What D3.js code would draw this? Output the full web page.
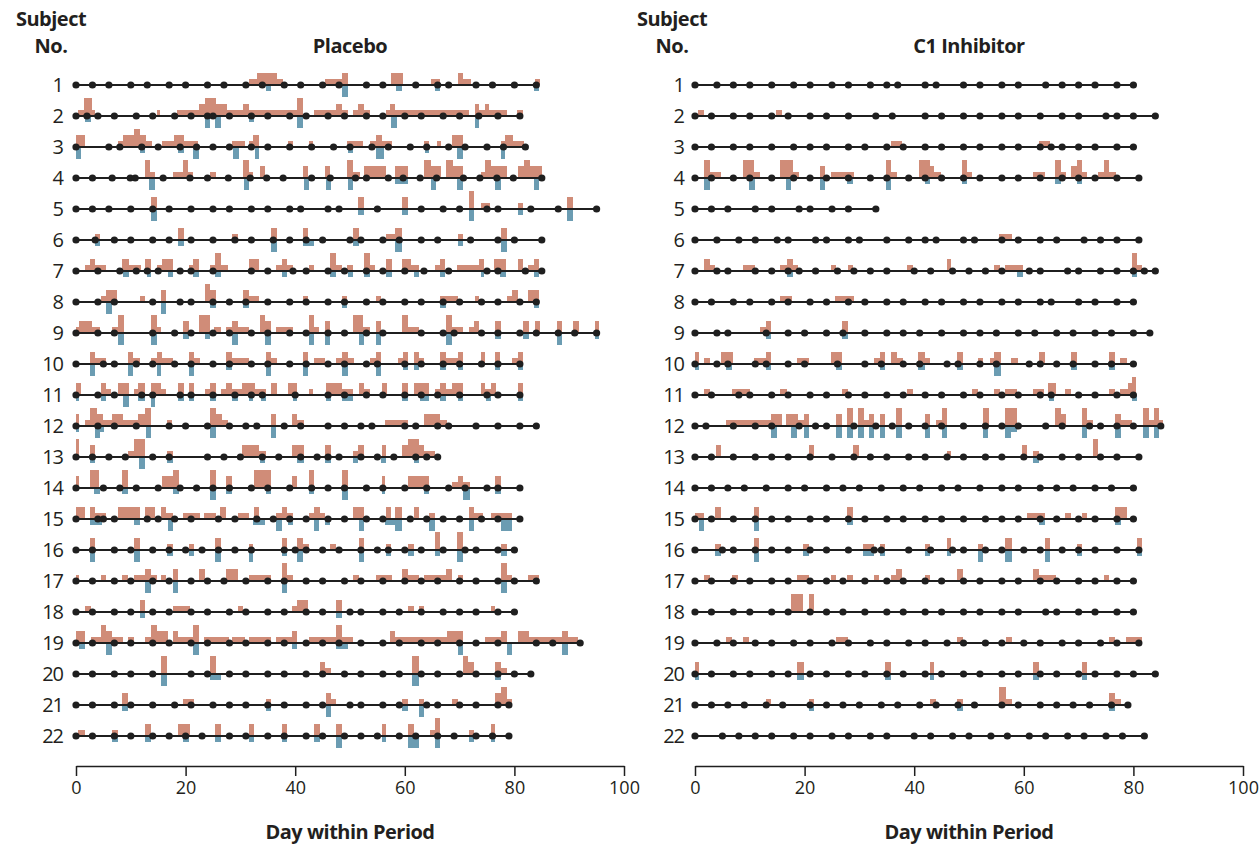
<!DOCTYPE html>
<html><head><meta charset="utf-8">
<script src="https://cdn.jsdelivr.net/npm/d3@7"></script>
<style>
html,body{margin:0;padding:0;background:#fff;}
svg{display:block;}
text{font-family:"Open Sans","Noto Sans",sans-serif;fill:#231f20;}
</style></head><body>
<svg id="chart" width="1260" height="845"></svg>
<script>
const subjects = ["1","2","3","4","5","6","7","8","9","10","11","12","13","14","15","16","17","18","19","20","21","22"];
const xTicks = [0,20,40,60,80,100];
const panelTitles = ["Placebo","C1 Inhibitor"];

// visit days (dots) per subject
const placeboDots = [
[0,3,6,10,13,17,20,24,27,31,34,38,41,45,48,53,56,62,66,68,73,76,80,84],
[0,2,4,7,11,14,18,21,24,25,28,32,35,39,42,46,49,53,56,60,63,67,70,73.5,77,81],
[0,6,8,12,15,19,22,25,28,32,35,39,43,47,50,54,57,61,64,68,71,75,78,82],
[0,3,6.6,9.9,10.8,15.9,20.8,24,27.8,31.8,34.8,37.8,43,46.4,51,53,57,59.7,62.8,65.8,70.7,73.7,76.8,79.8,85],
[0,3,6,10,14,17,21,25,28,32,35,39,41,46,48,55,63,67,70,75,77,83,88,95],
[0,3.5,7,10,14,17,21,25,29,32,36,39,42,45,50,52,56,59,63,66,72,77,80,85],
[0,4,8,11,13,15,19,21,25,32,35,39.6,42,46,49,53,56,60,63.5,68,75,77,82,85],
[0,4,7,14,19,21,25,28,31,35,39,42,46,49,53,56,60,63,67,70,74,77,81,84],
[0,4,7,14,18,21,25,28,32,35,39,42,46,49,53,56,63,67,69,74,77,81,84,88,91,95],
[0,5,7,11,14,18,21,25,28,32,35,39,42,46,49,53,55,60,63,67,70,74,77,81],
[0,4,7,12,14,19,21,25,29,32,34,40,46,49,53,56,60,63,66,70,75,77,81],
[0,4,7,11,17,20,24,28,31,33,38,41,46,49,52,54,60,62,66,68,73,77,81,84],
[0,3,6,9,14,17,24,27,30,34,37,41,44,46,48,52,55,58,62,64,66],
[0,5,8,11,15,19,22,25,28,32,35,39,43,46,49,53,56,60,64,68,71,75,77,81],
[0,4,5,7,13,15,18,21,26,29,33,36,39,42,46,49,53,56,61,64,67,70,74,77,81],
[0,3,7,10,14,17,20,23,26,29,32,38,40,42,45,48,52,55,57,60,63,67,71,73,77,80],
[0,3,7,10,14,17,21,24,27,31,35,38,42,45,49,52,56,60,63,66,70,73,77,80,84],
[0,3,7,10,14,17,21,24,28,31,35,38,42,45,50,52,56,59,63,67,70,73,77,80],
[0,3,7,10,14,17,21,24,28,31,35,38,42,45,48,52,56,59,63,66,70,73,77,84,87,92],
[0,3,7,10,14,21,24,28,31,35,38,42,45,49,52,56,59,63,66,70,73,77,80,83],
[0,3,7,10,14,18,21,25,28,31,35,38,42,45,50,52,56,59,64,66,70,73,77,79],
[0,3,7,10,14,17,20,23,28,31,35,38,42,45,49,52,55,59,62,66,69,73,76,79]
];
// attacks: [startDay, endDay, severity level]
const placeboAttacks = [
[[31.5,33,1],[33,34,2],[34,36.7,2],[36.7,37.8,1],[45.5,48.6,1],[48.6,49.7,2],[57.5,59.6,2],[64.7,66.4,1],[69.7,70.6,2],[70.6,72,1],[83.8,84.7,1]],
[[0.4,1.4,1],[1.4,2.9,3],[2.9,3.5,1],[14.7,15.4,1],[18.5,22.5,1],[22.5,23.5,2],[23.5,25.5,3],[25.5,27.5,2],[27.5,30.5,1],[30.5,31.5,2],[31.5,40.4,1],[40.4,41.4,3],[43.5,47.4,1],[47.4,48.6,2],[48.6,49.7,1],[50.6,51.5,1],[51.5,52.6,2],[52.6,53.6,1],[56.5,57.3,1],[57.3,58.3,2],[58.3,71.7,1],[72.8,73.5,2],[73.5,74.6,1],[74.6,75.3,2],[75.3,78.6,1],[80.4,81.6,1]],
[[0,1.7,2],[7.7,8.5,1],[8.5,10.5,2],[10.5,11.6,3],[11.6,12.7,2],[12.7,13.9,1],[15.7,17.9,1],[17.9,19.7,2],[19.7,22.2,1],[28.4,30.8,1],[31.5,32.3,1],[32.3,33.4,2],[38.6,39.6,1],[42.5,43.3,1],[49.5,52.4,1],[53.6,54.7,1],[54.7,55.8,2],[55.8,57.6,1],[63.5,64.5,1],[65.8,66.6,1],[68.7,70.6,2],[77.5,78.2,1],[78.2,79.7,2],[79.7,81.8,1]],
[[12.6,13.5,3],[13.5,14.4,1],[17.7,19.5,1],[19.5,20.4,3],[20.4,21.4,1],[24.4,25.5,1],[30.5,31.6,3],[31.6,32.3,1],[33.6,34.5,2],[41.4,42.3,2],[45.5,46.4,2],[49.5,50.6,3],[50.6,51.8,1],[52.6,56.5,2],[58.3,60.5,2],[63.5,64.7,3],[64.7,66.6,2],[67.5,68.8,3],[68.8,70.6,2],[73.9,74.6,1],[74.6,75.7,3],[75.7,78.6,2],[80.7,81.8,2],[81.8,82.9,3],[82.9,85,2]],
[[13.6,14.7,2],[51.5,52.6,2],[59.4,60.5,2],[71.7,72.6,3],[73.9,75.5,1],[80.6,81.6,1],[89.6,90.7,2]],
[[3.5,4.3,1],[18.6,19.7,2],[28.4,29.5,1],[35.6,36.7,2],[41.4,42.3,2],[50.6,51.7,2],[56.5,58.3,1],[58.3,59.4,2],[69.7,70.6,1],[77.5,78.6,2]],
[[1.7,2.6,1],[2.6,3.5,2],[3.5,5.5,1],[8.4,9.6,2],[9.6,11.8,1],[12.6,13.7,2],[14.7,15.7,1],[15.7,17.7,2],[20.6,21.4,1],[21.4,22.5,2],[24.4,25.3,1],[25.3,26.4,3],[26.4,27.7,1],[31.6,33.4,2],[36.5,37.5,1],[37.5,38.5,2],[38.5,39.6,1],[42.5,43.5,1],[46.4,47.5,3],[47.5,48.6,1],[49.5,50.6,1],[52.6,53.6,3],[53.6,54.6,1],[56.5,57.6,2],[59.4,61.2,2],[61.2,62.5,1],[65.6,66.5,1],[66.5,67.4,2],[69.5,73.5,1],[73.5,74.4,2],[76.2,78.4,2],[80.6,81.6,2],[82.5,83.6,1],[83.6,84.5,2]],
[[4.5,5.5,1],[5.5,7.4,2],[11.6,12.5,1],[15.6,16.5,2],[23.5,24.4,3],[24.4,25.5,2],[30.5,31.6,2],[31.6,33.4,1],[41.4,42.3,1],[48.6,49.5,1],[54.7,55.6,1],[66.5,69.7,1],[72.8,73.6,1],[78.6,79.6,1],[79.6,80.7,2],[82.5,84.5,2]],
[[0,0.6,1],[0.6,2.9,2],[2.9,4.3,1],[6.6,7.6,1],[7.6,8.7,3],[13.6,14.7,3],[14.7,15.6,1],[19.5,20.6,2],[22.4,24.4,3],[25.1,26.4,1],[27.4,28.4,1],[28.4,29.5,2],[29.5,31.6,1],[33.6,34.5,3],[34.5,35.6,2],[36.5,39.6,1],[42.5,43.5,3],[43.5,44.4,1],[45.5,46.4,2],[50.6,52.4,3],[52.4,53.6,1],[54.7,55.6,2],[59.4,60.5,3],[60.5,62.5,1],[67.6,68.6,3],[68.6,70.6,1],[71.7,72.6,1],[72.6,73.6,2],[76.4,77.5,2],[81.6,82.7,2],[83.8,84.7,2],[87.7,88.7,2],[90.7,91.7,2],[94.7,95.5,2]],
[[2.6,3.5,2],[3.5,5.5,1],[9.5,10.4,2],[10.4,11.6,1],[13.6,14.7,1],[14.7,15.7,2],[15.7,17.7,1],[20.6,21.5,2],[21.5,22.6,1],[27.3,28.4,2],[28.4,31.5,1],[34.7,35.6,2],[35.6,36.7,1],[41.4,42.3,2],[43.5,45.5,1],[47.5,48.6,1],[48.6,49.7,2],[49.7,50.8,1],[53.6,54.7,1],[54.7,55.6,2],[58.7,59.6,1],[59.6,60.5,2],[61.6,62.5,2],[62.5,63.5,1],[66.5,67.6,2],[67.6,69.7,1],[69.7,70.6,2],[73.9,74.6,2],[76.4,77.3,2],[79.6,80.6,1],[80.6,81.6,2]],
[[0,0.9,2],[4.5,5.5,2],[5.5,6.3,1],[7.7,9.6,2],[10.5,11.4,1],[11.4,12.5,2],[13.6,15.6,2],[15.6,16.5,1],[18.6,19.7,2],[20.6,21.5,2],[23.5,24.4,1],[24.4,25.5,2],[26.4,27.3,1],[27.3,28.4,2],[28.4,30.3,1],[30.3,32.7,2],[32.7,34.7,1],[35.6,36.7,2],[38.7,40.4,2],[42.6,43.3,1],[45.6,48.6,2],[48.6,50.6,1],[51.6,52.6,2],[52.6,53.6,1],[55.8,56.8,2],[59.4,60.5,2],[61.6,64.5,2],[65.6,66.5,1],[66.5,67.6,2],[67.6,68.6,1],[68.6,70.6,2],[73.9,74.6,2],[74.6,75.7,1],[75.7,76.7,2],[80.6,81.6,2]],
[[0,0.6,2],[1.7,2.6,1],[2.6,3.8,3],[3.8,4.9,2],[4.9,6.5,1],[6.5,8.5,2],[8.5,11.4,1],[11.4,12.5,2],[12.5,13.6,3],[16.6,17.6,1],[24.4,25.5,3],[25.5,26.6,2],[26.6,27.7,1],[35.6,36.5,2],[39.4,40.4,2],[40.4,41.6,1],[56.3,60.5,1],[63.5,66.5,2],[66.5,67.7,1]],
[[0,0.6,3],[2.6,3.5,2],[9.5,10.5,1],[10.5,12.6,3],[16.6,17.7,1],[30.3,33.4,2],[33.4,34.7,1],[39.4,41.6,2],[45.5,46.6,2],[50.6,51.5,1],[51.5,52.6,2],[55.8,56.5,2],[59.4,60.5,2],[60.5,62.5,3],[62.5,63.5,2],[63.5,65.6,1]],
[[0,0.6,2],[2.6,4.2,3],[8.4,9.5,3],[15.7,17.7,2],[17.7,18.8,3],[24.4,25.5,3],[27.4,28.4,2],[32.5,35.6,3],[39.4,40.4,2],[42.5,43.4,3],[48.6,49.7,3],[55.8,56.3,2],[60.5,64.5,2],[68.7,69.7,1],[69.7,70.6,2],[70.6,71.9,1],[76.4,77.5,2]],
[[0,1.7,2],[2.6,3.5,2],[3.5,5.5,1],[7.6,11.6,2],[12.5,14.4,2],[15.6,16.5,2],[16.5,17.7,1],[19.5,22.6,1],[23.3,25.5,1],[26.2,27.4,2],[29.5,31.6,1],[32.5,33.4,2],[36.5,37.5,1],[37.5,38.5,2],[38.5,39.6,1],[42.5,43.5,1],[43.5,44.6,2],[44.6,45.5,1],[50.6,52.6,2],[56.5,57.5,2],[58.3,59.4,2],[61.6,62.5,2],[64.5,65.6,1],[71.7,72.6,2],[72.6,74.2,1],[75.7,79.6,1]],
[[2.6,3.5,2],[10.5,11.6,2],[16.6,17.7,1],[20.6,21.5,1],[25.3,26.4,2],[31.5,32.3,1],[37.5,38.5,2],[40.4,41.4,2],[41.4,42.5,1],[46.4,47.5,1],[51.6,52.6,2],[56.5,57.5,1],[60.5,61.6,1],[65.6,66.5,3],[69.5,70.6,3],[77.5,78.6,1]],
[[0,0.6,1],[4.5,5.5,1],[8.4,9.4,1],[10.5,12.6,1],[12.6,13.6,2],[13.6,14.7,1],[15.6,16.5,1],[17.7,18.6,2],[22.4,23.5,2],[27.4,29.6,2],[31.5,35.6,1],[37.5,38.5,3],[38.5,39.6,1],[50.6,51.7,1],[54.7,57.6,1],[59.4,60.5,2],[60.5,62.5,1],[63.5,67.6,1],[67.6,68.6,2],[69.7,70.6,1],[77.5,78.6,3],[78.6,79.6,1],[82.5,84.5,1]],
[[1.7,2.7,1],[11.6,12.6,2],[17.7,20.8,1],[29.5,30.5,1],[39.4,40.4,1],[40.4,42.3,2],[47.5,48.6,2],[60.5,61.6,1],[62.5,63.5,1],[75.7,76.4,1]],
[[0,1.7,2],[2.7,4.5,1],[4.5,5.5,3],[5.5,6.5,2],[6.5,8.5,1],[9.4,10.5,1],[12.6,13.6,1],[13.6,14.7,3],[14.7,16.7,2],[17.7,18.6,2],[18.6,21.4,1],[21.4,22.5,3],[23.3,28,1],[28.4,30.9,1],[31.6,35.6,1],[36.5,39.4,1],[39.4,40.4,2],[42.5,47.5,1],[47.5,48.6,3],[48.6,50.6,1],[57.3,58.3,2],[58.3,67.7,1],[67.7,70.6,2],[74.6,77.5,1],[77.5,78.6,2],[80.6,82.7,2],[82.7,88.7,1],[88.7,89.7,2],[89.7,91.6,1]],
[[15.6,16.6,3],[24.4,25.5,3],[44.5,45.5,2],[45.5,46.6,1],[61.4,62.5,3],[70.6,71.6,3],[71.6,72.6,2],[76.4,77.5,2],[77.5,78.6,1]],
[[8.4,9.4,2],[19.6,21.5,1],[34.7,35.6,1],[45.6,46.6,2],[46.6,47.5,1],[59.4,60.5,1],[62.5,63.5,1],[68.7,69.7,1],[76.4,77.5,2],[77.5,78.6,3],[78.6,79.6,1]],
[[0.4,1.7,1],[6.6,7.6,1],[12.6,13.7,2],[18.6,20.8,2],[25.3,26.4,2],[31.5,32.5,2],[37.5,38.5,2],[43.5,44.5,2],[47.5,48.6,2],[55.8,56.5,2],[60.5,61.6,2],[64.6,65.6,1],[65.6,66.5,3],[71.7,72.6,1],[75.7,76.4,2]]
];
// rescue treatment bars (below line): [startDay, endDay, level]
const placeboRescue = [
[[34.7,35.6,1],[48.6,49.7,2],[58.4,59.5,1],[65.5,66.4,1],[83.6,84.5,1]],
[[1.7,2.7,1],[23.5,24.4,2],[25.3,26.4,2],[31.6,32.4,1],[40.4,41.4,2],[57.5,58.6,2],[72.8,73.6,2]],
[[0,0.9,2],[11.6,12.6,1],[18.6,19.7,1],[21.4,22.5,2],[28.6,29.7,2],[32.6,33.4,2],[49.7,50.6,1],[54.7,56.2,2],[63.6,64.5,1],[69.5,70.6,2],[77.5,78.3,2]],
[[13.4,14.4,2],[30.6,31.6,2],[41.6,42.5,2],[45.6,46.6,2],[49.7,50.6,2],[58.3,60.5,1],[64.7,65.7,2],[69.5,70.6,2],[76.4,77.5,2],[83.6,84.5,2]],
[[13.6,14.7,2],[51.5,52.6,1],[59.4,60.5,1],[71.7,72.6,2],[80.6,81.6,1],[89.6,90.7,2]],
[[3.5,4.3,1],[18.6,19.7,1],[35.6,36.7,2],[41.4,43.5,1],[50.6,51.7,1],[58.3,59.4,2],[69.7,70.6,1],[77.5,78.6,2]],
[[8.5,9.6,1],[12.9,13.7,1],[16.7,17.7,1],[21.4,22.5,1],[25.3,26.4,1],[37.5,38.5,1],[46.4,47.5,1],[49.7,50.6,1],[52.6,53.6,1],[56.5,57.6,1],[61.6,62.5,1],[66.5,67.4,1],[73.9,74.4,1],[77.3,78.4,1],[83.6,84.5,1]],
[[5.5,6.5,2],[15.6,16.5,2],[24.4,25.5,1],[30.5,31.6,1],[48.6,49.5,1],[66.5,67.6,1],[83.6,84.5,1]],
[[7.6,8.7,2],[13.6,14.7,2],[19.5,20.6,1],[23.5,24.4,1],[28.4,29.5,2],[34.5,35.6,2],[42.5,43.5,2],[45.5,46.4,2],[51.6,52.6,2],[54.7,55.6,2],[67.6,68.6,2],[76.4,77.5,1],[81.6,82.7,1],[87.7,88.7,2],[94.7,95.5,1]],
[[2.6,3.5,2],[9.5,10.4,2],[14.7,15.6,2],[20.6,21.5,2],[27.3,28.4,1],[34.7,35.6,2],[41.4,42.3,2],[48.6,49.7,2],[54.7,55.6,2],[59.6,60.5,1],[61.6,62.5,1],[66.5,67.6,1],[69.7,70.6,1],[76.4,77.3,1],[80.6,81.6,1]],
[[0,0.6,1],[4.5,5.5,1],[8.5,9.6,2],[11.4,12.5,1],[13.6,14.4,2],[18.6,19.7,1],[20.6,21.5,1],[24.4,25.5,1],[28.4,29.5,1],[31.5,32.3,1],[33.8,34.7,1],[39.6,40.4,1],[45.6,46.6,1],[48.6,50.6,1],[59.4,60.5,1],[62.7,64.5,1],[66.5,67.6,1],[69.7,70.6,1],[74.9,75.7,1],[80.6,81.6,1]],
[[0,0.6,1],[3.5,4.3,2],[4.3,5.2,1],[12.7,13.7,2],[24.4,25.5,2],[35.6,36.5,2]],
[[2.6,3.5,1],[11.5,12.6,2],[16.6,17.7,1],[33.6,34.5,1],[40.4,41.6,1],[45.5,46.6,1],[50.6,51.5,1],[55.6,56.5,1],[61.6,62.5,1]],
[[3.3,4.3,1],[8.4,9.5,1],[17.7,18.8,1],[24.4,25.5,2],[27.4,28.4,1],[34.7,35.6,1],[42.5,43.4,1],[48.6,49.7,2],[55.8,56.3,1],[63.5,64.5,1],[70.6,71.9,2],[76.4,77.5,1]],
[[2.6,4.8,1],[10.6,11.6,1],[16.7,17.7,2],[32.3,34.5,1],[36.5,37.5,2],[38.7,39.6,1],[43.5,44.4,2],[45.5,46.3,1],[51.6,52.6,2],[56.3,58.3,1],[58.3,59.4,2],[64.5,65.6,2],[71.7,72.6,2],[77.5,79.6,2]],
[[2.6,3.5,2],[10.5,11.6,2],[16.6,17.7,1],[20.6,21.5,1],[25.3,26.4,2],[31.5,32.3,2],[37.5,38.5,1],[40.4,41.4,2],[51.6,52.6,2],[56.5,57.5,1],[60.5,61.6,1],[65.6,66.5,1],[69.5,70.6,2],[77.5,78.6,1]],
[[12.6,13.6,2],[17.7,18.6,2],[37.5,38.5,2],[77.5,78.6,2]],
[[11.6,12.6,1],[47.5,48.6,1]],
[[0.6,1.7,1],[5.5,6.5,2],[21.4,22.5,2],[39.4,40.4,1],[47.5,49.7,1],[69.7,70.6,2],[78.6,79.5,2],[88.7,89.7,2]],
[[15.6,16.6,2],[24.4,26.4,1],[61.4,62.5,2],[76.4,77.5,1]],
[[8.4,9.4,1],[34.7,35.6,1],[45.6,46.6,2],[59.4,60.5,1],[62.5,63.5,2]],
[[6.6,7.6,1],[12.6,13.7,1],[19.6,20.6,1],[25.3,26.4,1],[31.5,32.5,1],[37.5,38.5,1],[43.5,44.5,1],[47.5,48.6,2],[55.8,56.5,1],[60.5,62.5,2],[65.6,66.5,2],[71.7,72.6,1],[75.7,76.4,1]]
];

const c1Dots = [
[0,4,7,10,14,18,21,25,28,32,35,37,42,44,49,52,56,59,64,67,70,73,77,80],
[0,3,7,10,14,17,21,24,28,33,36,42,45,49,52,56,59,63,67,70,75,77,80,84],
[0,3,7,10,14,18,21,24,28,31,35,38,42,45,49,52,56,59,63,65,67,70,73,77,80],
[0,3,7,10,14,18,21,24,28,32,35,39,42,45,49,52,56,59,63,67,70,73,77,81],
[0,3,6,11,14,19,21,25,28,33],
[0,4,8,11,15,17,22,24,28,30,35,39,42,44,49,51,56,59,63,66,71,74,77,81],
[0,4,6,11,14,17,19,22,26,29,32,35,40,43,47,50,53,56,61,63,68,70,74,77,80,82,84],
[0,3,7,10,14,17,21,24,28,31,35,38,42,45,49,52,56,59,63,65,70,73,77,80],
[0,4,6,13,17,20,24,27,31,35,38,41,45,49,52,55,59,62,66,69,73,76,80,83],
[0,4,6,11,13,17,20,26,31,34,38,41,46,48,52,55,61,63,66,69,73,76,80],
[0,3,8,10,14,17,21,24,28,31,35,38,42,45,49,52,56,59,63,65,70,73,77,80],
[0,2,7,11,14,19,22,24,29,33,36,39,42,45,49,53,56,59,64,67,72,74,77,80,85],
[0,3,7,11,14,17,21,25,29,32,35,39,42,46,49,53,56,60,63,67,70,74,77,81],
[0,3,6,9,13,17,20,24,27,30,34,38,41,45,48,52,56,59,63,66,69,73,76,80],
[0,3,7,11,14,17,21,24,28,31,35,38,42,45,49,53,56,59,63,66,70,73,77,80],
[0,5,7,11,14,17,21,24,28,32.7,34,39,43,47,49,53,56,60,63,67,70,73,77,81],
[0,3,7,10,14,17,21,24,27,31,35,38,42,45,49,52,56,59,63,66,70,73,77,80],
[0,3,7,10,14,17,21,24,27,31,35,38,42,45,49,52,56,59,64,66,70,73,77,80],
[0,4,7,11,14,18,21,25,28,32,35,39,42,46,49,53,56,60,63,67,70,74,77,81],
[0,3,7,10,14,17,21,24,28,31,35,38,42,45,49,52,56,59,63,66,70,73,77,80,84],
[0,3,6,9,13,16,21,24,27,30,34,37,41,44,48,51,56,59,63,66,69,72,76,79],
[0,5,8,11,14,18,21,25,28,32,35,40,43,47,50,54,57,61,64,68,71,75,78,82]
];
const c1Attacks = [
[],
[[0.6,1.7,1],[14.7,15.8,1]],
[[35.7,37.7,1],[62.8,64.7,1]],
[[1.7,2.8,3],[2.8,4.8,1],[8.8,10.8,3],[10.8,11.9,1],[15.6,17.8,3],[17.8,19,1],[22.8,23.8,2],[24.9,29,1],[34.8,35.7,3],[35.7,36.8,1],[40.9,42.8,3],[42.8,43.7,2],[43.7,44.8,1],[48.8,49.6,3],[49.6,50.6,1],[61.7,63.8,1],[65.7,66.7,3],[66.7,67.7,1],[68.6,69.7,2],[69.7,70.6,3],[70.6,71.6,1],[73.6,74.6,1],[74.6,75.6,3],[75.6,76.8,1]],
[],
[[55.5,57.8,1]],
[[1.7,2.8,2],[2.8,3.7,1],[8.7,10.9,1],[15.6,16.7,1],[16.7,17.8,2],[17.8,18.8,1],[24.9,25.8,1],[27.9,28.8,1],[38.7,39.8,1],[45.9,46.8,2],[54.5,55.6,1],[56.5,59.9,1],[79.8,80.7,3],[80.7,81.6,1]],
[[15.6,17.7,1],[25.6,29,1]],
[[11.9,12.9,1],[12.9,13.8,2],[26.8,27.9,2]],
[[0,0.7,2],[1.7,2.8,1],[4.8,6.9,2],[10.8,12.9,1],[12.9,13.8,2],[18.6,20.8,1],[24.9,26.9,2],[32.7,33.8,1],[33.8,34.7,2],[35.7,36.8,2],[36.8,37.9,1],[40.7,41.9,2],[41.9,42.8,1],[47.8,48.9,2],[51.7,52.6,1],[53.8,54.6,1],[54.6,55.8,2],[57.6,58.9,1],[62.8,63.8,2],[68.6,69.7,2],[75.5,76.7,2],[77.5,78.8,1]],
[[1.7,2.8,1],[6.7,10,1],[15.5,16.7,1],[26.8,27.9,1],[38.7,39.8,1],[50.6,51.7,1],[54.5,55.6,1],[56.5,58.7,1],[61.7,63.6,1],[64.5,65.8,2],[67.5,68.6,1],[75.5,76.6,1],[77.5,79,1],[79,79.7,2],[79.7,80.5,3]],
[[5.7,13.8,1],[13.8,15.8,2],[16.6,18.8,2],[18.8,19.9,1],[19.9,20.8,2],[25.7,26.9,2],[27.7,28.8,3],[29.7,30.9,3],[30.9,31.7,1],[31.7,32.7,2],[33.7,34.7,2],[36.7,37.7,3],[41.9,42.8,2],[43.9,45,1],[45,45.9,3],[52.6,53.7,3],[56.5,58.7,3],[65.7,66.7,3],[66.7,67.7,2],[70.6,71.6,3],[71.6,72.6,1],[76.6,77.7,2],[77.7,79.8,1],[81.8,82.8,3],[82.8,83.8,1],[83.8,84.6,3],[84.6,85.4,1]],
[[3.9,4.8,2],[20.8,21.8,2],[28.8,30,2],[45.9,46.8,1],[59.7,60.6,2],[61.7,62.7,1],[72.6,73.6,3]],
[],
[[0,1.7,1],[3.7,4.7,2],[10.8,11.7,2],[27.7,28.8,2],[60.6,63.8,1],[67.5,68.6,1],[70.6,71.6,1],[76.6,78.8,2]],
[[3.7,4.8,1],[10.8,11.7,2],[19.7,20.8,1],[30.7,32.7,1],[33.7,34.7,1],[41.9,42.8,1],[45.9,46.8,2],[51.7,52.6,1],[56.5,57.8,2],[63.8,64.7,2],[69.7,70.6,1],[80.7,81.6,2]],
[[1.7,2.8,1],[6.7,7.8,1],[18.7,20.8,1],[24.9,25.8,1],[27.7,28.8,1],[32.7,33.6,1],[35.7,36.7,1],[36.7,37.7,2],[41.9,42.8,1],[47.8,48.9,2],[61.7,62.7,2],[62.7,65.8,1],[74.6,75.6,1]],
[[17.6,19.7,3],[20.8,21.8,3]],
[[5.7,6.7,1],[8.8,9.9,1],[25.7,27.9,1],[47.8,48.9,1],[56.7,57.8,1],[75.5,76.6,1],[78.7,81.6,1]],
[[0,0.8,2],[18.7,19.8,2],[34.7,35.7,2],[42.8,43.7,2],[61.7,62.7,2],[70.6,71.6,2]],
[[12.9,13.8,1],[20.8,21.8,1],[42.8,43.9,1],[47.8,48.9,1],[55.5,56.7,3],[56.7,57.8,1],[75.5,76.6,2],[76.6,77.7,1]],
[]
];
const c1Rescue = [
[],[],[],
[[1.7,2.8,2],[9.9,10.9,2],[16.6,17.6,2],[22.8,23.8,2],[27.7,28.8,1],[34.8,35.7,2],[41.9,42.8,1],[48.8,49.6,1],[65.7,66.7,1],[69.7,70.6,1]],
[],[],
[[16.7,17.8,1],[58.7,59.9,1],[79.8,80.7,1]],
[],
[[12.9,13.8,1],[26.8,27.9,1]],
[[0,0.7,1],[5.7,6.7,1],[12.9,13.8,1],[25.7,26.8,1],[33.8,34.7,1],[40.7,41.9,1],[47.8,48.9,1],[54.6,55.8,2],[68.6,69.7,1],[75.5,76.7,1]],
[[64.6,65.6,1],[79.8,80.7,1]],
[[13.8,14.9,2],[17.5,18.6,2],[19.9,20.8,2],[25.7,26.8,2],[27.7,28.8,2],[29.7,30.9,2],[31.8,32.6,2],[33.7,34.7,2],[36.7,37.7,2],[41.9,42.8,2],[45,45.9,2],[52.6,53.5,2],[56.5,57.6,2],[57.6,58.7,1],[70.6,71.6,2],[76.6,77.7,2],[81.8,82.8,2],[83.8,84.6,2]],
[[61.7,62.7,1]],
[],
[[0.7,1.7,2],[10.8,11.7,2],[27.7,28.8,1],[62.7,63.8,1],[76.6,77.7,1]],
[[3.7,4.8,1],[10.8,11.7,2],[19.7,20.8,1],[30.7,32.7,1],[33.7,34.7,1],[41.9,42.8,1],[45.9,46.8,1],[51.7,52.6,2],[56.5,57.8,2],[63.8,64.7,2],[69.7,70.6,1],[80.7,81.6,1]],
[],[],[],
[[0,0.8,1],[18.7,19.8,1],[34.7,35.7,1],[42.8,43.7,1],[61.7,62.7,1],[70.6,71.6,1]],
[[20.8,21.8,1],[47.8,48.9,1],[75.5,76.6,1]],
[]
];

const svg = d3.select("#chart");
const SALMON = "#d08c78", BLUE = "#6b9cb2", INK = "#1f1f1f";
const yRow = d3.scalePoint().domain(subjects).range([85, 736]);
const hUp = d3.scaleLinear().domain([0,3]).range([0,18]);
const hDown = d3.scaleLinear().domain([0,2]).range([0,12]);

const panels = [
  {title: panelTitles[0], x0: 76, x1: 624, dots: placeboDots, attacks: placeboAttacks, rescue: placeboRescue, labelX: 63, subjX: 51},
  {title: panelTitles[1], x0: 695, x1: 1243, dots: c1Dots, attacks: c1Attacks, rescue: c1Rescue, labelX: 684, subjX: 672}
];

panels.forEach(p => {
  const x = d3.scaleLinear().domain([0,100]).range([p.x0, p.x1]);
  const g = svg.append("g");

  g.append("text").attr("x", p.subjX).attr("y", 26).attr("text-anchor","middle")
    .attr("font-size", 20).attr("font-weight","bold").attr("letter-spacing","-0.5").text("Subject");
  g.append("text").attr("x", p.subjX).attr("y", 53).attr("text-anchor","middle")
    .attr("font-size", 20).attr("font-weight","bold").attr("letter-spacing","-0.5").text("No.");
  g.append("text").attr("x", (p.x0+p.x1)/2).attr("y", 53).attr("text-anchor","middle")
    .attr("font-size", 20).attr("font-weight","bold").attr("letter-spacing","-0.5").text(p.title);

  subjects.forEach((s, i) => {
    const y = yRow(s);
    const row = g.append("g");
    row.selectAll("rect.att").data(p.attacks[i]).join("rect")
      .attr("x", d => x(d[0])).attr("width", d => x(d[1]) - x(d[0]))
      .attr("y", d => y - hUp(d[2])).attr("height", d => hUp(d[2]))
      .attr("fill", SALMON).attr("shape-rendering","crispEdges");
    row.selectAll("rect.res").data(p.rescue[i]).join("rect")
      .attr("x", d => x(d[0])).attr("width", d => x(d[1]) - x(d[0]))
      .attr("y", y).attr("height", d => hDown(d[2]))
      .attr("fill", BLUE).attr("shape-rendering","crispEdges");
    const dd = p.dots[i];
    row.append("line").attr("x1", x(0)).attr("x2", x(d3.max(dd)))
      .attr("y1", y).attr("y2", y).attr("stroke", INK).attr("stroke-width", 2);
    row.selectAll("circle").data(dd).join("circle")
      .attr("cx", d => x(d)).attr("cy", y).attr("r", 3.6).attr("fill", INK);
    row.append("text").attr("x", p.labelX).attr("y", y).attr("dy", "0.36em")
      .attr("text-anchor","end").attr("font-size", 20).attr("letter-spacing","-1").text(s);
  });

  const axis = d3.axisBottom(x).tickValues(xTicks).tickSize(10).tickSizeOuter(0).tickPadding(5);
  const ag = g.append("g").attr("transform","translate(0,766)").call(axis);
  ag.select(".domain").attr("stroke", INK).attr("stroke-width", 1.5);
  ag.selectAll(".tick line").attr("stroke", INK).attr("stroke-width", 1.5);
  ag.selectAll(".tick text").attr("font-size", 18).attr("fill", "#231f20")
    .attr("font-family", "'Open Sans','Noto Sans',sans-serif");

  g.append("text").attr("x", (p.x0+p.x1)/2).attr("y", 839).attr("text-anchor","middle")
    .attr("font-size", 20).attr("font-weight","bold").attr("letter-spacing","-0.5").text("Day within Period");
});
</script>
</body></html>
